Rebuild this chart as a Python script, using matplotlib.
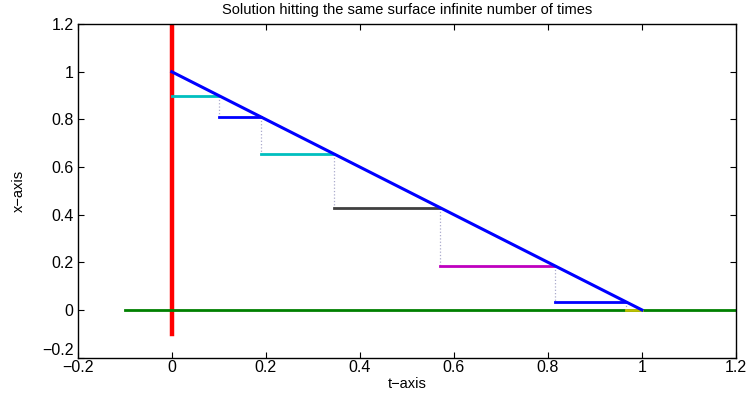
import numpy as np
import matplotlib
matplotlib.use('Agg')
import matplotlib.pyplot as plt

plt.rcParams['font.family'] = ['Liberation Sans', 'DejaVu Sans']

# step points: solution hits the surface x = 1 - t
t_hits = [0.0, 0.1, 0.19, 0.344, 0.57, 0.815, 0.966, 1.0]
x_levels = [0.9, 0.81, 0.656, 0.43, 0.185, 0.034, 0.001]
step_colors = [(0, 0.75, 0.75), (0, 0, 1), (0, 0.75, 0.75), (0.25, 0.25, 0.25),
               (0.75, 0, 0.75), (0, 0, 1), (0.75, 0.75, 0)]

surface_t = [0.0, 1.0]
surface_x = [1.0, 0.0]
red_x = [0.0, 0.0]
red_y = [-0.1, 1.25]
green_t = [-0.1, 1.25]
green_x = [0.0, 0.0]

fig = plt.figure(figsize=(7.48, 3.96), dpi=100)
ax = fig.add_axes([0.104, 0.097, 0.880, 0.842])

ax.plot(red_x, red_y, color='red', lw=3.2, zorder=2)
ax.plot(green_t, green_x, color=(0, 0.5, 0), lw=2, zorder=2)

# dotted drops between levels
for k in range(1, len(x_levels)):
    ax.plot([t_hits[k], t_hits[k]], [x_levels[k - 1], x_levels[k]],
            ls=':', color='#aaaacc', lw=0.9, zorder=3)

for k in range(len(x_levels)):
    ax.plot([t_hits[k], t_hits[k + 1]], [x_levels[k], x_levels[k]],
            color=step_colors[k], lw=2, zorder=4)

ax.plot(surface_t, surface_x, color='blue', lw=2.2, zorder=5)

ax.set_xlim(-0.2, 1.2)
ax.set_ylim(-0.2, 1.2)
ax.set_xticks(np.arange(-0.2, 1.21, 0.2))
ax.set_yticks(np.arange(-0.2, 1.21, 0.2))
fmt = lambda v: '0' if abs(v) < 1e-9 else ('1' if abs(v - 1) < 1e-9 else f'{v:.1f}'.replace('-', '\u2212'))
ax.set_xticklabels([fmt(v) for v in ax.get_xticks()])
ax.set_yticklabels([fmt(v) for v in ax.get_yticks()])
ax.tick_params(direction='in', top=True, right=True, labelsize=11.5, length=4)
ax.tick_params(axis='x', pad=2)
ax.tick_params(axis='y', pad=3)
# lift the lowest y label a little so it clears the first x label
ax.get_yticklabels()[0].set_verticalalignment('bottom')
for s in ax.spines.values():
    s.set_linewidth(1.0)

ax.set_title('Solution hitting the same surface infinite number of times', fontsize=10.5, pad=7)
ax.set_xlabel('t\u2212axis', fontsize=10.5, labelpad=1)
ax.set_ylabel('x\u2212axis', fontsize=10.5, labelpad=12)

plt.savefig('out.png', dpi=100)
